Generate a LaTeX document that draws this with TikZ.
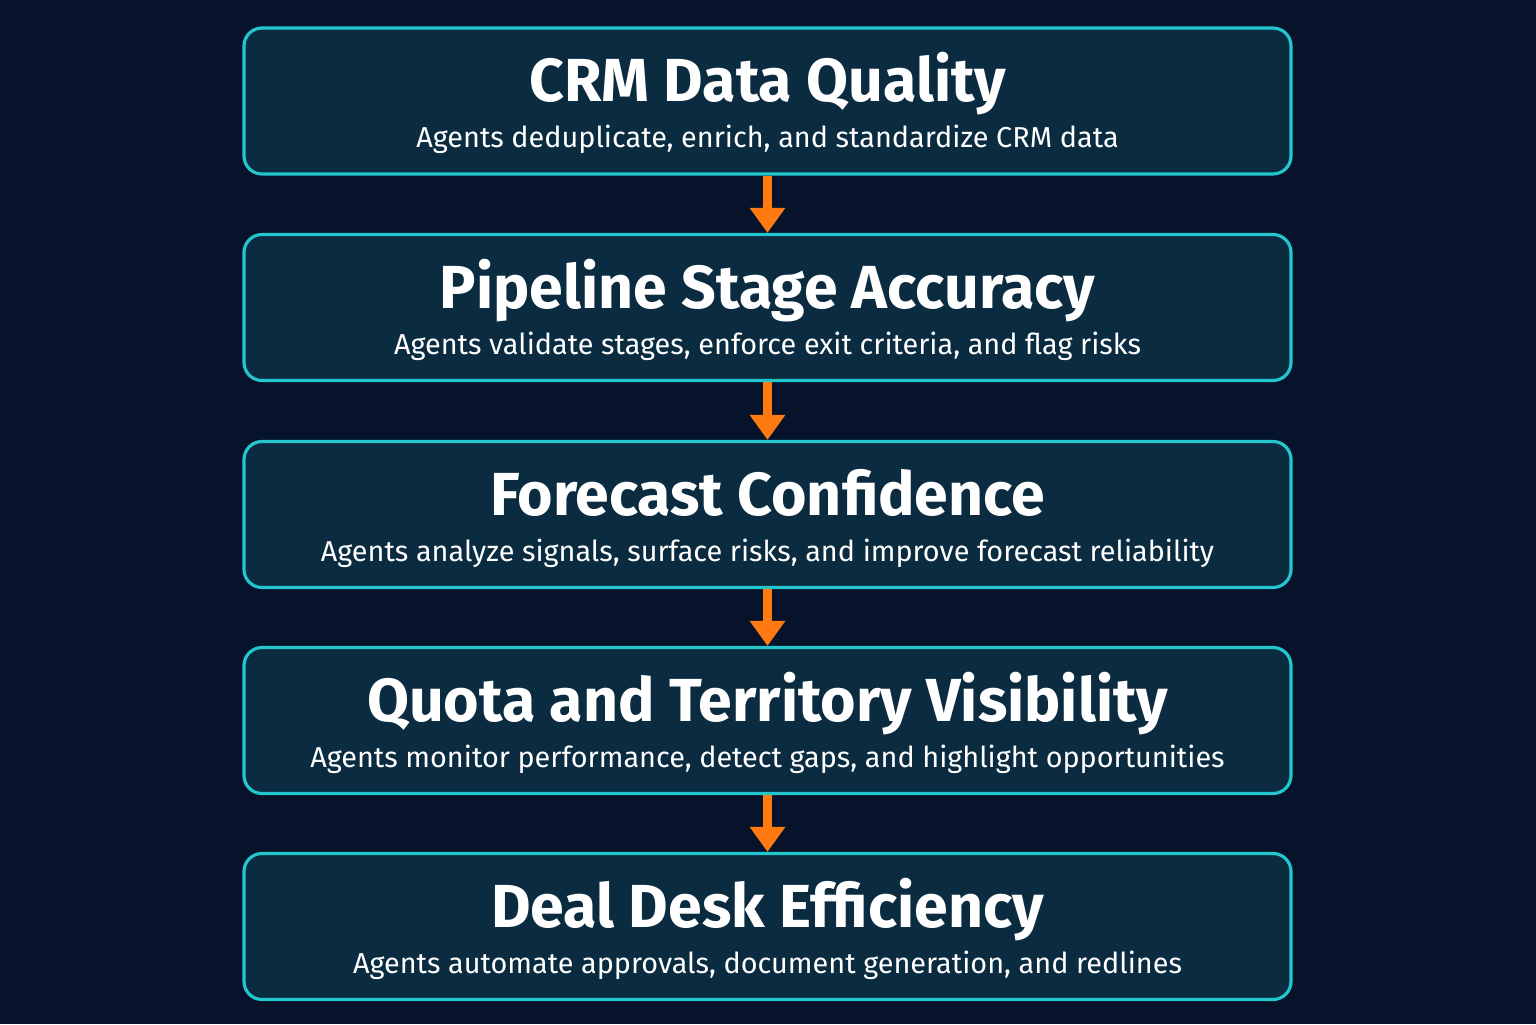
\documentclass[tikz,border=0pt]{standalone}
\usepackage{fontspec}
\setmainfont{Fira Sans}
\usetikzlibrary{arrows.meta,positioning}
\definecolor{bgnavy}{HTML}{06132A}
\definecolor{boxfill}{HTML}{0A2B40}
\definecolor{boxline}{HTML}{22C6CC}
\definecolor{flow}{HTML}{FF7A10}
\tikzset{
  stage/.style={draw=boxline, line width=0.9pt, fill=boxfill, rounded corners=0.18cm,
    minimum width=10.47cm, minimum height=1.46cm},
  headline/.style={anchor=base, text=white, font=\bfseries\fontsize{17.3}{20}\selectfont},
  subline/.style={anchor=base, text=white, font=\fontsize{8.2}{10}\selectfont},
  flowarrow/.style={draw=flow, line width=2.3pt, -{Triangle[width=0.34cm,length=0.25cm]}}
}
\begin{document}
\begin{tikzpicture}
  \fill[bgnavy] (0,0) rectangle (15.36,10.24);
  \useasboundingbox (0,0) rectangle (15.36,10.24);
  \foreach \i/\y/\head/\sub in {
    1/9.23/CRM Data Quality/{Agents deduplicate, enrich, and standardize CRM data},
    2/7.165/Pipeline Stage Accuracy/{Agents validate stages, enforce exit criteria, and flag risks},
    3/5.095/Forecast Confidence/{Agents analyze signals, surface risks, and improve forecast reliability},
    4/3.035/Quota and Territory Visibility/{Agents monitor performance, detect gaps, and highlight opportunities},
    5/0.975/Deal Desk Efficiency/{Agents automate approvals, document generation, and redlines}} {
    \node[stage] (box\i) at (7.675,\y) {};
    \node[headline] (head\i) at ([yshift=-0.01cm]box\i.center) {\head};
    \node[subline] (sub\i) at ([yshift=-0.47cm]box\i.center) {\sub};
  }
  % arrows between stages
  \foreach \i/\j in {1/2,2/3,3/4,4/5}
    \draw[flowarrow] (box\i.south) -- (box\j.north);
\end{tikzpicture}
\end{document}
